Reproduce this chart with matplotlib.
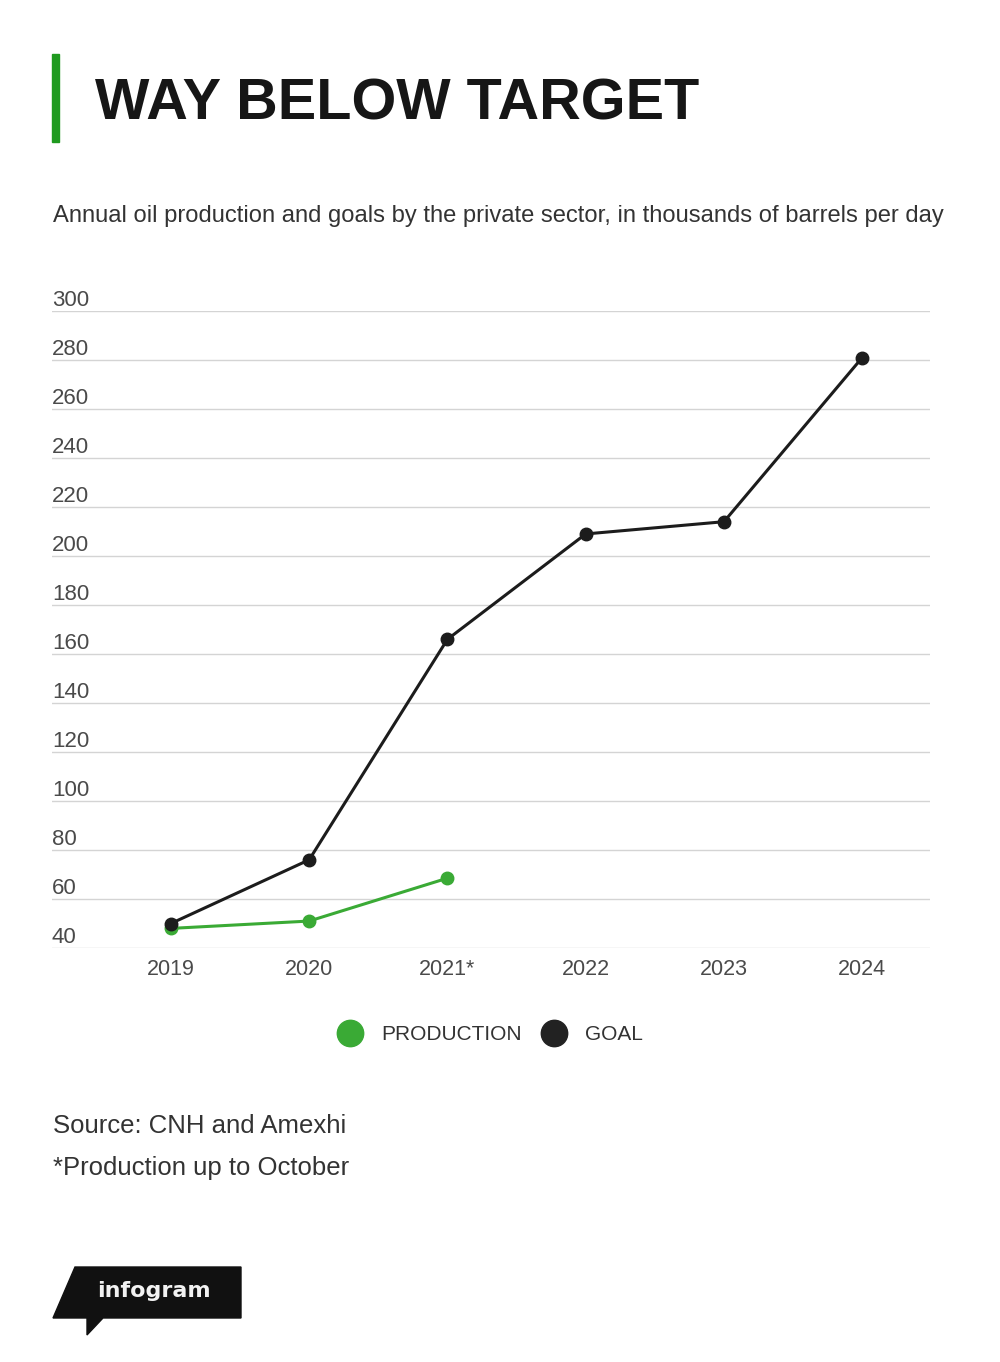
import matplotlib
matplotlib.use("Agg")
import matplotlib.pyplot as plt
from matplotlib.patches import Polygon, Rectangle
from matplotlib.lines import Line2D

years = ["2019", "2020", "2021*", "2022", "2023", "2024"]
goal = [50, 76, 166, 209, 214, 281]
production = [48, 51, 68.5]
y_ticks = [40, 60, 80, 100, 120, 140, 160, 180, 200, 220, 240, 260, 280, 300]

GREEN = "#3aaa35"
BLACK = "#1c1c1c"
GREY = "#4a4a4a"

plt.rcParams["font.family"] = ["Liberation Sans", "DejaVu Sans"]

fig = plt.figure(figsize=(10, 13.62), dpi=100)
W, H = 1000, 1362

def fx(px):
    return px / W

def fy(py):
    return 1 - py / H

# header
fig.patches.append(Rectangle((fx(52), fy(142)), fx(7), (142 - 54) / H,
                             transform=fig.transFigure, color="#1f9a1f"))
fig.text(fx(95), fy(104), "WAY BELOW TARGET", fontsize=41.5, fontweight="bold",
         color="#161616", va="center", ha="left")
fig.text(fx(53), fy(216), "Annual oil production and goals by the private sector, in thousands of barrels per day",
         fontsize=17.1, color="#333333", va="center", ha="left")

# chart
ax = fig.add_axes([fx(52), fy(948), (930 - 52) / W, (948 - 311) / H])
x = list(range(len(years)))
ax.plot(x, goal, color=BLACK, lw=2.2, marker="o", ms=9, zorder=4)
ax.plot(x[:len(production)], production, color=GREEN, lw=2.2, marker="o", ms=9, zorder=3)

ax.set_xlim(-0.86, 5.49)
ax.set_ylim(40, 300)
ax.set_yticks(y_ticks)
ax.set_yticklabels([str(v) for v in y_ticks])
ax.set_xticks(x)
ax.set_xticklabels(years)
for s in ax.spines.values():
    s.set_visible(False)
ax.yaxis.grid(True, color="#d4d4d4", lw=1)
ax.set_axisbelow(True)
ax.tick_params(axis="y", length=0, pad=0, labelsize=16, labelcolor=GREY)
ax.tick_params(axis="x", length=0, pad=8, labelsize=15.5, labelcolor=GREY)
for lab in ax.get_yticklabels():
    lab.set_horizontalalignment("left")
    lab.set_verticalalignment("bottom")
ax.patch.set_alpha(0)

# legend
handles = [Line2D([], [], ls="none", marker="o", ms=19, color=GREEN),
           Line2D([], [], ls="none", marker="o", ms=19, color="#222222")]
fig.legend(handles, ["PRODUCTION", "GOAL"], loc="center", bbox_to_anchor=(fx(486), fy(1035)),
           ncol=2, frameon=False, fontsize=15, handletextpad=0.5, columnspacing=0.55,
           labelcolor="#333333")

# footer
fig.text(fx(53), fy(1126), "Source: CNH and Amexhi", fontsize=18.5, color="#333333", va="center")
fig.text(fx(53), fy(1168), "*Production up to October", fontsize=18.5, color="#333333", va="center")

# logo
logo = [(75, 1267), (241, 1267), (241, 1318), (103, 1318), (87, 1335), (87, 1318), (53, 1318)]
fig.patches.append(Polygon([(fx(a), fy(b)) for a, b in logo], closed=True,
                           transform=fig.transFigure, color="#111111"))
fig.text(fx(154), fy(1291), "infogram", fontsize=16, fontweight="bold", color="#f2f2f2",
         family=["DejaVu Sans"], ha="center", va="center")

fig.savefig("out.png", dpi=100, facecolor="white")
